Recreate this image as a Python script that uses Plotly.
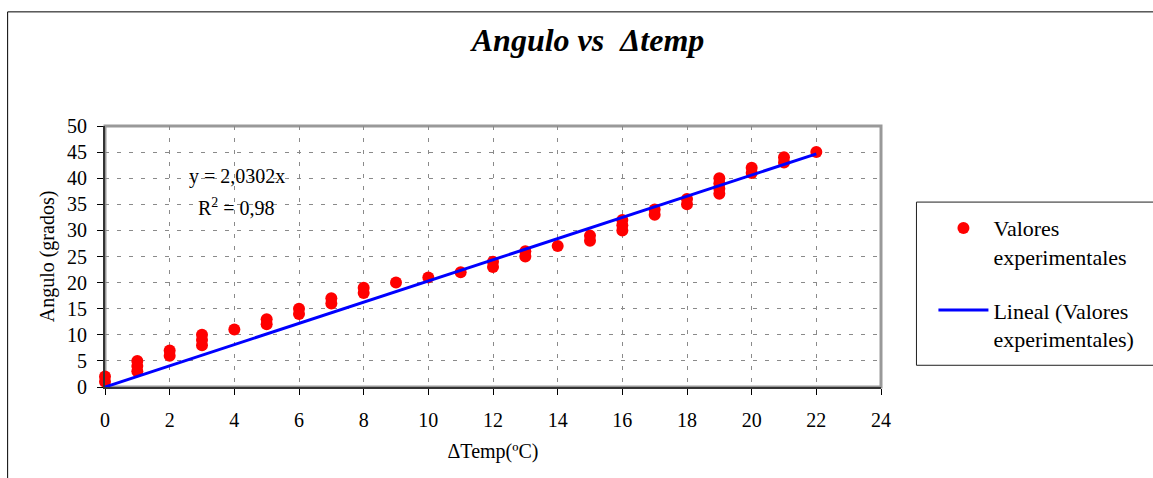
import numpy as np
import plotly.graph_objects as go

# Data
delta_temp = [0, 0, 1, 1, 1, 2, 2, 3, 3, 3, 4, 5, 5, 6, 6, 7, 7, 8, 8, 9, 10, 11,
              12, 12, 13, 13, 14, 15, 15, 16, 16, 16, 17, 17, 18, 18, 19, 19, 19, 19,
              20, 20, 21, 21, 22]
angulo = [1, 2, 3, 4, 5, 6, 7, 8, 9, 10, 11, 12, 13, 14, 15, 16, 17, 18, 19, 20, 21, 22,
          23, 24, 25, 26, 27, 28, 29, 30, 31, 32, 33, 34, 35, 36, 37, 38, 39, 40,
          41, 42, 43, 44, 45]
x_ticks = [0, 2, 4, 6, 8, 10, 12, 14, 16, 18, 20, 22, 24]
y_ticks = [0, 5, 10, 15, 20, 25, 30, 35, 40, 45, 50]

xa = np.array(delta_temp, dtype=float)
ya = np.array(angulo, dtype=float)
slope = float((xa * ya).sum() / (xa * xa).sum())  # linear fit through origin
fit_x = [0, max(delta_temp)]
fit_y = [slope * v for v in fit_x]

FONT = "Liberation Serif"

fig = go.Figure()
fig.add_trace(go.Scatter(
    x=delta_temp, y=angulo, mode="markers",
    name="Valores<br>experimentales", legendgroup="a",
    marker=dict(color="#ff0000", size=12, line=dict(width=0)),
    cliponaxis=False,
))
fig.add_trace(go.Scatter(
    x=fit_x, y=fit_y, mode="lines",
    name="Lineal (Valores<br>experimentales)", legendgroup="b",
    line=dict(color="#0000ff", width=3),
    cliponaxis=False,
))

L, R, T, B = 104.5, 881.5, 126.0, 386.7
W, H = 1153, 478
pw, ph = R - L, B - T

def px(xp):
    return (xp - L) / pw

def py(yp):
    return (B - yp) / ph

shapes = [
    # outer chart border
    dict(type="rect", xref="paper", yref="paper",
         x0=px(7), x1=px(1165), y0=py(490), y1=py(12),
         line=dict(color="#000000", width=1), layer="below"),
    # plot frame
    dict(type="rect", xref="paper", yref="paper",
         x0=0, x1=1, y0=0, y1=1,
         line=dict(color="#999999", width=3), layer="below"),
    # legend box
    dict(type="rect", xref="paper", yref="paper",
         x0=px(917), x1=px(1170), y0=py(365), y1=py(202),
         line=dict(color="#202020", width=1)),
]

fig.update_layout(
    width=W, height=H,
    margin=dict(l=L, r=W - R, t=T, b=H - B, pad=0),
    paper_bgcolor="white", plot_bgcolor="white",
    font=dict(family=FONT, size=20, color="#000000"),
    title=dict(text="<b><i>Angulo vs \u00a0\u0394temp</i></b>",
               font=dict(family=FONT, size=32, color="#000000"),
               x=588 / W, xanchor="center", xref="container",
               y=1 - 40 / H, yanchor="middle", yref="container"),
    xaxis=dict(range=[0, 24], tickvals=x_ticks, ticks="outside", ticklen=6,
               tickcolor="#000000", tickwidth=1,
               showline=True, linecolor="#333333", linewidth=2,
               showgrid=True, gridcolor="#8a8a8a", gridwidth=1, griddash="4px,8px",
               zeroline=False, ticklabelstandoff=8,
               tickfont=dict(family=FONT, size=20),
               title=dict(text="\u0394Temp(\u00baC)", font=dict(family=FONT, size=20), standoff=14)),
    yaxis=dict(range=[0, 50], tickvals=y_ticks, ticks="outside", ticklen=6,
               tickcolor="#000000", tickwidth=1,
               showline=True, linecolor="#333333", linewidth=2,
               showgrid=True, gridcolor="#8a8a8a", gridwidth=1, griddash="4px,8px",
               zeroline=False, ticklabelstandoff=6,
               tickfont=dict(family=FONT, size=20),
               title=dict(text="Angulo (grados)", font=dict(family=FONT, size=20), standoff=7)),
    legend=dict(x=px(934), y=py(207), xanchor="left", yanchor="top",
                bgcolor="rgba(0,0,0,0)", borderwidth=0,
                font=dict(family=FONT, size=22, color="#000000"),
                itemwidth=50, valign="top", tracegroupgap=22,
                traceorder="grouped"),
    shapes=shapes,
    annotations=[
        dict(xref="paper", yref="paper", x=px(237), y=py(176),
             text="y = " + f"{slope:.4f}".replace(".", ",") + "x",
             showarrow=False, xanchor="center", yanchor="middle",
             font=dict(family=FONT, size=20)),
        dict(xref="paper", yref="paper", x=px(236), y=py(207),
             text="R<sup>2</sup> = 0,98",
             showarrow=False, xanchor="center", yanchor="middle",
             font=dict(family=FONT, size=20)),
    ],
)

fig.write_html("out.html", config={"displayModeBar": False},
               post_script="document.body.style.margin='0';")
